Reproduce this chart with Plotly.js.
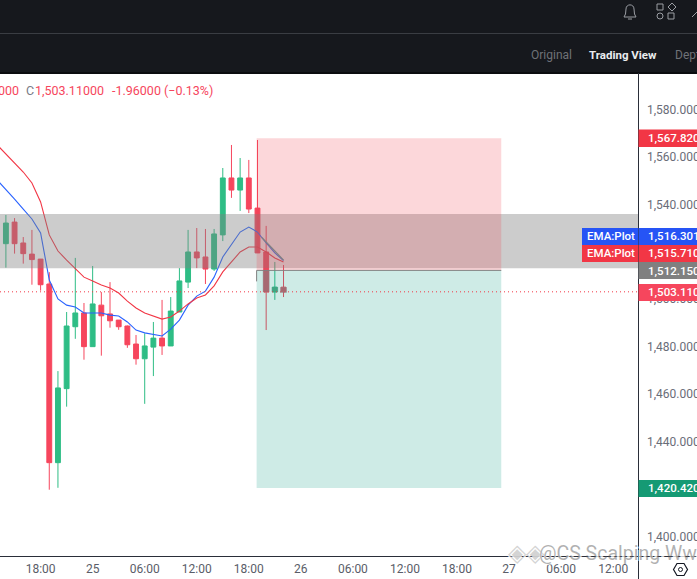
<!DOCTYPE html>
<html><head><meta charset="utf-8">
<script src="https://cdn.plot.ly/plotly-3.0.1.min.js"></script>
<style>html,body{margin:0;padding:0;background:#fff;overflow:hidden}#c{width:697px;height:579px}</style>
</head><body><div id="c"></div>
<script>
const times=["2024-05-24 13:00","2024-05-24 14:00","2024-05-24 15:00","2024-05-24 16:00","2024-05-24 17:00","2024-05-24 18:00","2024-05-24 19:00","2024-05-24 20:00","2024-05-24 21:00","2024-05-24 22:00","2024-05-24 23:00","2024-05-25 00:00","2024-05-25 01:00","2024-05-25 02:00","2024-05-25 03:00","2024-05-25 04:00","2024-05-25 05:00","2024-05-25 06:00","2024-05-25 07:00","2024-05-25 08:00","2024-05-25 09:00","2024-05-25 10:00","2024-05-25 11:00","2024-05-25 12:00","2024-05-25 13:00","2024-05-25 14:00","2024-05-25 15:00","2024-05-25 16:00","2024-05-25 17:00","2024-05-25 18:00","2024-05-25 19:00","2024-05-25 20:00","2024-05-25 21:00","2024-05-25 22:00"];
const opens=[1523.4,1532.5,1523.7,1519.0,1516.9,1506.4,1431.1,1462.3,1488.4,1494.2,1480.0,1497.5,1493.8,1491.2,1488.7,1481.1,1474.9,1479.8,1483.6,1480.3,1494.6,1507.2,1519.9,1517.8,1512.7,1527.1,1551.1,1546.0,1551.1,1538.4,1519.9,1503.0,1505.07];
const highs=[1535.5,1534.2,1526.2,1529.2,1516.9,1511.4,1469.7,1494.6,1517.4,1498.4,1514.0,1503.0,1507.2,1491.2,1488.9,1484.9,1485.6,1490.4,1499.7,1500.9,1513.1,1529.2,1530.0,1529.6,1529.6,1555.3,1565.0,1559.5,1558.7,1567.1,1530.9,1515.7,1514.4];
const lows=[1513.3,1519.2,1515.0,1506.1,1503.6,1419.7,1420.5,1454.7,1483.3,1474.5,1480.0,1476.2,1488.0,1487.1,1479.5,1472.4,1455.9,1467.6,1476.5,1480.3,1494.6,1504.7,1513.1,1506.4,1511.9,1524.5,1542.7,1537.2,1536.3,1519.5,1487.0,1499.7,1500.9];
const closes=[1532.1,1523.4,1519.2,1516.7,1506.1,1431.1,1462.6,1488.7,1494.2,1480.0,1498.0,1493.0,1490.9,1488.4,1480.8,1474.9,1480.3,1483.6,1480.3,1495.0,1507.7,1519.9,1517.4,1512.7,1527.5,1551.1,1546.0,1551.1,1538.0,1519.5,1503.0,1505.1,1503.11];
const emaBlue=[1550.2,1546.4,1542.2,1538.0,1533.8,1527.9,1508.1,1500.1,1497.5,1496.7,1494.2,1494.2,1494.2,1493.3,1492.9,1490.4,1487.0,1485.8,1485.3,1484.5,1487.4,1491.2,1497.5,1501.3,1503.4,1509.3,1517.8,1522.8,1528.3,1530.4,1528.3,1523.7,1519.5,1516.3];
const emaRed=[1565.0,1561.2,1557.8,1553.6,1549.0,1541.0,1527.1,1520.3,1516.5,1513.1,1509.3,1507.7,1506.0,1504.7,1502.6,1499.2,1496.3,1494.2,1492.9,1491.6,1492.5,1495.0,1498.0,1500.5,1501.8,1505.6,1511.5,1515.7,1519.9,1522.0,1522.0,1519.9,1517.4,1515.71];
const xTickVals=["2024-05-24 18:00","2024-05-25 00:00","2024-05-25 06:00","2024-05-25 12:00","2024-05-25 18:00","2024-05-26 00:00","2024-05-26 06:00","2024-05-26 12:00","2024-05-26 18:00","2024-05-27 00:00","2024-05-27 06:00","2024-05-27 12:00"];
const xTickText=["18:00","25","06:00","12:00","18:00","26","06:00","12:00","18:00","27","06:00","12:00"];
const yTickVals=[1580,1560,1540,1520,1500,1480,1460,1440,1420,1400];
const yTickText=["1,580.00000","1,560.00000","1,540.00000","1,520.00000","1,500.00000","1,480.00000","1,460.00000","1,440.00000","1,420.00000","1,400.00000"];
const zoneTop=1535.9, zoneBottom=1513.0;
const entry=1512.15, stop=1567.82, target=1420.42, last=1503.11;
const posStart="2024-05-25 18:54", posEnd="2024-05-26 23:06";
const PW=638,PH=483,PT=73;
const fx=x=>x/PW, fy=y=>1-(y-PT)/PH;
const FONT="Roboto, 'Liberation Sans', sans-serif";
const dark="#16181d";
const pr=(x0,y0,x1,y1,fill,extra)=>Object.assign({type:'rect',xref:'paper',yref:'paper',x0:fx(x0),x1:fx(x1),y0:fy(y0),y1:fy(y1),fillcolor:fill,line:{width:0},layer:'above'},extra||{});
const pl=(x0,y0,x1,y1,c,w)=>({type:'line',xref:'paper',yref:'paper',x0:fx(x0),x1:fx(x1),y0:fy(y0),y1:fy(y1),line:{color:c,width:w||1},layer:'above'});
const pPath=(pts,c,w)=>({type:'path',xref:'paper',yref:'paper',path:pts,line:{color:c,width:w||1},fillcolor:'rgba(0,0,0,0)',layer:'above'});
const P=(cmd,x,y)=>cmd+fx(x)+','+fy(y);
const shapes=[
 {type:'rect',xref:'paper',x0:0,x1:1,yref:'y',y0:zoneBottom,y1:zoneTop,fillcolor:'rgba(128,128,128,0.4)',line:{width:0},layer:'above'},
 {type:'rect',xref:'x',x0:posStart,x1:posEnd,yref:'y',y0:entry,y1:stop,fillcolor:'rgba(242,54,69,0.2)',line:{width:0},layer:'above'},
 {type:'rect',xref:'x',x0:posStart,x1:posEnd,yref:'y',y0:target,y1:entry,fillcolor:'rgba(8,153,129,0.2)',line:{width:0},layer:'above'},
 {type:'line',xref:'x',x0:posStart,x1:posEnd,yref:'y',y0:entry,y1:entry,line:{color:'#808080',width:1},layer:'above'},
 {type:'line',xref:'paper',x0:0,x1:1,yref:'y',y0:last,y1:last,line:{color:'#f23645',width:1,dash:'1px,3px'},layer:'above'},
 {type:'line',xref:'x',yref:'y',x0:posStart,x1:posStart,y0:entry,y1:1507.5,line:{color:'#808080',width:1},layer:'above'},
 {type:'line',xref:'x',yref:'y',x0:"2024-05-25 19:30",x1:"2024-05-25 22:00",y0:1526,y1:1516.5,line:{color:'#808080',width:1.2},layer:'above'},
 {type:'rect',xref:'x',yref:'y',x0:"2024-05-25 19:36",x1:"2024-05-25 20:24",y0:last,y1:entry,fillcolor:'rgba(128,128,128,0.45)',line:{width:0},layer:'above'},
 {type:'rect',xref:'x',yref:'y',x0:"2024-05-25 20:36",x1:"2024-05-25 21:24",y0:last,y1:1505.1,fillcolor:'rgba(128,128,128,0.3)',line:{width:0},layer:'above'},
 {type:'rect',xref:'x',yref:'y',x0:"2024-05-25 21:36",x1:"2024-05-25 22:24",y0:1502.6,y1:1505.1,fillcolor:'rgba(128,128,128,0.45)',line:{width:0},layer:'above'},
 pr(0,0,697,73,dark),
 pl(0,33.5,697,33.5,'#3a3d43',1),
 pr(0,72,697,74,'#0b0c0f'),
 pl(638.5,73,638.5,579,'#2a2e39',1),
 pl(0,556.5,697,556.5,'#2a2e39',1),
 pPath(P('M',624,17)+P('L',636,17)+P('L',634.5,14)+P('L',634,9)+'C'+fx(634)+','+fy(3.5)+' '+fx(626)+','+fy(3.5)+' '+fx(626)+','+fy(9)+P('L',625.5,14)+'Z'+P('M',628,19)+P('L',632,19),'#9a9da3',1),
 pr(657,4,663,10,'rgba(0,0,0,0)',{line:{color:'#9a9da3',width:1}}),
 pPath(P('M',672,3)+P('L',676,7)+P('L',672,11)+P('L',668,7)+'Z','#9a9da3',1),
 {type:'circle',xref:'paper',yref:'paper',x0:fx(657),x1:fx(663),y0:fy(13),y1:fy(19),line:{color:'#9a9da3',width:1},layer:'above'},
 pr(668,13,674,19,'rgba(0,0,0,0)',{line:{color:'#9a9da3',width:1}}),
 pPath(P('M',692,17)+P('L',697,12),'#9a9da3',1),
 pr(638.5,129.5,697,147,'#f23645'),
 pr(638.5,228,697,245,'#2654f5'),
 pr(638.5,245,697,262,'#f23645'),
 pr(638.5,262,697,279,'#808080'),
 pr(638.5,284,697,301,'#f6465d'),
 pr(638.5,480,697,497,'#159a74'),
 pr(582,228,638,245,'#2654f5'),
 pr(582,245,638,262,'#f23645'),
 pPath(P('M',673.5,569.5)+P('L',677,563.5)+P('L',684,563.5)+P('L',687.5,569.5)+P('L',684,575.5)+P('L',677,575.5)+'Z','#131722',1.2),
 {type:'circle',xref:'paper',yref:'paper',x0:fx(678.5),x1:fx(682.5),y0:fy(567.5),y1:fy(571.5),line:{color:'#131722',width:1},layer:'above'}
];
const ann=(t,x,y,anchor,color,size,extra)=>Object.assign({text:t,xref:'paper',yref:'paper',x:fx(x),y:fy(y),xanchor:anchor,yanchor:'middle',showarrow:false,font:{family:FONT,size:size||12,color:color},borderpad:0},extra||{});
const tag=(t,x,y)=>({text:t,xref:'paper',yref:'paper',x:fx(x),y:fy(y),xanchor:'left',yanchor:'middle',showarrow:false,borderpad:0,font:{family:FONT,size:11.5,color:'#fff',weight:500}});
const annotations=[
 ann('Original',530,55,'left','#6f7278',12),
 ann('<b>Trading View</b>',588,55,'left','#eaecef',11.5),
 ann('Depth',674,55,'left','#6f7278',12),
 ann('000',-3,90,'left','#f6465d',12.5),
 ann('C',25,90,'left','#787b86',12.5),
 ann('1,503.11000',34,90,'left','#f6465d',12.5),
 ann('-1.96000 (−0.13%)',111,90,'left','#f6465d',12.5),
 tag('1,567.82000',646.5,138.3),
 tag('1,516.30100',646.5,236.5),
 tag('1,515.71000',646.5,253.5),
 tag('1,512.15000',646.5,270.5),
 tag('1,503.11000',646.5,292),
 tag('1,420.42000',646.5,488),
 tag('EMA:Plot',586,236.5),
 tag('EMA:Plot',586,253.5),
 ann('◈◈',506,553,'left','rgba(255,255,255,0.9)',26),
 ann('◈◈',507,553,'left','rgba(170,170,170,0.5)',24),
 ann('<b>@CS Scalping Ww</b>',538,554,'left','rgba(255,255,255,0.75)',20),
 ann('@CS Scalping Ww',538,553,'left','rgba(100,100,100,0.5)',19.5)
];
const traces=[
 {type:'candlestick',x:times.slice(1),open:opens,high:highs,low:lows,close:closes,
  increasing:{line:{color:'#2ebd85',width:1},fillcolor:'#2ebd85'},
  decreasing:{line:{color:'#f6465d',width:1},fillcolor:'#f6465d'},whiskerwidth:0,hoverinfo:'skip',showlegend:false},
 {type:'scatter',mode:'lines',x:times,y:emaBlue,line:{color:'#2962ff',width:1.1},hoverinfo:'skip',showlegend:false},
 {type:'scatter',mode:'lines',x:times,y:emaRed,line:{color:'#f23645',width:1.1},hoverinfo:'skip',showlegend:false}
];
const layout={width:697,height:579,margin:{l:0,r:59,t:73,b:23,pad:0},paper_bgcolor:'#fff',plot_bgcolor:'#fff',showlegend:false,boxgap:0.2,
 xaxis:{type:'date',range:["2024-05-24 13:19:12","2024-05-27 14:51:36"],rangeslider:{visible:false},tickmode:'array',tickvals:xTickVals,ticktext:xTickText,showgrid:false,zeroline:false,showline:false,ticks:'',ticklen:0,tickfont:{family:FONT,size:12,color:'#5a5d68'},tickangle:0,ticklabelstandoff:4},
 yaxis:{side:'right',range:[1391.76,1595.34],tickmode:'array',tickvals:yTickVals,ticktext:yTickText,showgrid:false,zeroline:false,showline:false,ticks:'',tickfont:{family:FONT,size:12,color:'#6a6d78'},ticklabelstandoff:8},
 shapes,annotations};
Plotly.newPlot('c',traces,layout,{displayModeBar:false,staticPlot:true});
</script></body></html>
